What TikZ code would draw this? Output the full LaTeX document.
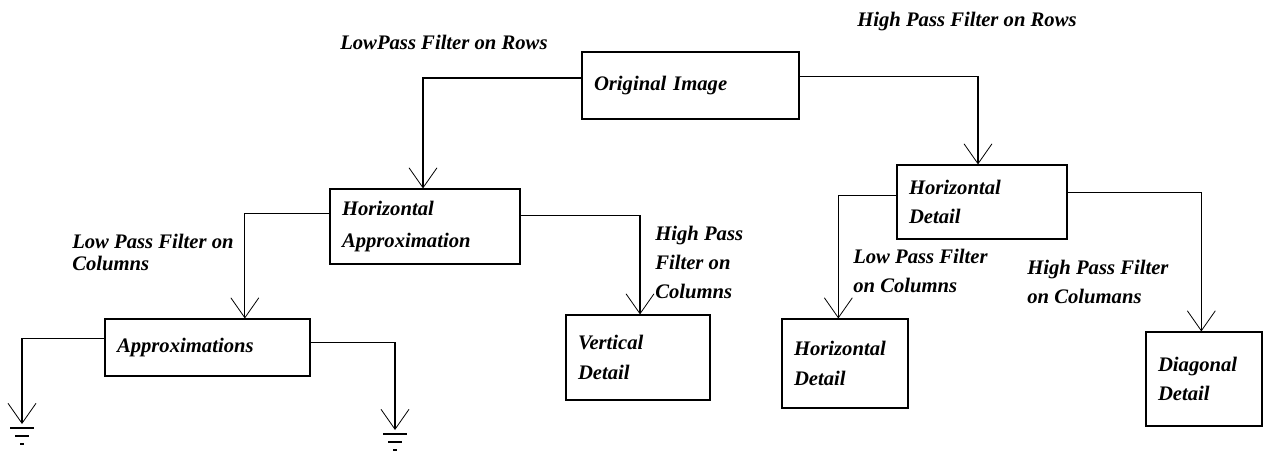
\documentclass[tikz,border=0pt]{standalone}
\usepackage{fontspec}
\setmainfont{Liberation Serif}
\usetikzlibrary{arrows.meta,positioning}

\newcommand{\dwtfont}{\bfseries\itshape\fontsize{15.5pt}{22pt}\selectfont}

\begin{document}
\begin{tikzpicture}[x=0.75pt,y=-0.75pt,
	blk/.style={draw,line width=0.8pt,align=left,inner xsep=9pt,inner ysep=0pt,font=\dwtfont},
	lab/.style={align=left,inner sep=0pt,anchor=west,font=\dwtfont},
	link/.style={line width=0.8pt,-{Straight Barb[length=15pt,width=21pt,line width=0.6pt]}},
	wire/.style={line width=0.8pt}]
		
		\useasboundingbox (0,0) rectangle (1265,467);
		
		% Blocks
		\node[blk,text width=144.75pt,minimum height=50.25pt] (orig) at (690.5,85.5) {Original Image};
		\node[blk,text width=124.5pt,minimum height=56.25pt,font=\bfseries\itshape\fontsize{15.5pt}{24pt}\selectfont] (hapx) at (425,226.5) {Horizontal\\Approximation};
		\node[blk,text width=109.5pt,minimum height=55.5pt] (hdet) at (982,202) {Horizontal\\Detail};
		\node[blk,text width=135.75pt,minimum height=42.75pt] (apx) at (207.5,347.5) {Approximations};
		\node[blk,text width=90pt,minimum height=63.75pt] (vdet) at (638,357.5) {Vertical\\Detail};
		\node[blk,text width=76.5pt,minimum height=66.75pt] (hdet2) at (845,363.5) {Horizontal\\Detail};
		\node[blk,text width=69pt,minimum height=70.5pt] (ddet) at (1204,379) {Diagonal\\Detail};
		
		% Filter labels
		\node[lab] (lpr) at (340,42) {LowPass Filter on Rows};
		\node[lab] (hpr) at (857,22) {High Pass Filter on Rows};
		\node[lab,font=\bfseries\itshape\fontsize{15.5pt}{16pt}\selectfont] (lpc) at (72,252.5) {Low Pass Filter on\\Columns};
		\node[lab] (hpc) at (655,262.5) {High Pass\\Filter on\\Columns};
		\node[lab] (lpc2) at (853,271) {Low Pass Filter\\on Columns};
		\node[lab] (hpc2) at (1027,282) {High Pass Filter\\on Columans};
		
		% Connectors
		\draw[link] ([yshift=5.6pt]orig.west) -| ([xshift=-1.5pt]hapx.north);
		\draw[link] ([yshift=7pt]orig.east) -| ([xshift=-3pt]hdet.north);
		\draw[link] ([yshift=10pt]hapx.west) -| ([xshift=28pt]apx.north);
		\draw[link] ([yshift=8.6pt]hapx.east) -| ([xshift=1.5pt]vdet.north);
		\draw[link] ([yshift=5pt]hdet.west) -| ([xshift=-5pt]hdet2.north);
		\draw[link] ([yshift=7pt]hdet.east) -| ([xshift=-2pt]ddet.north);
		
		% Outputs of the approximations
		\coordinate (gndL) at (22,424);
		\coordinate (gndR) at (395,430);
		\draw[link] ([yshift=7pt]apx.west) -| (gndL);
		\draw[link] ([yshift=4pt]apx.east) -| (gndR);
		\foreach \g in {gndL,gndR}{
			\draw[wire] ([shift={(-12,4)}]\g) -- ([shift={(12,4)}]\g);
			\draw[wire] ([shift={(-7,12)}]\g) -- ([shift={(7,12)}]\g);
			\draw[wire] ([shift={(-2,20)}]\g) -- ([shift={(2,20)}]\g);
		}
		
	\end{tikzpicture}
\end{document}
